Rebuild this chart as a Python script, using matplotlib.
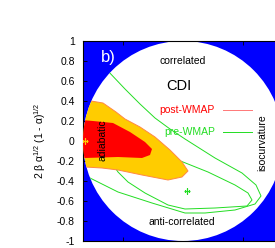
import matplotlib
matplotlib.use("Agg")
import matplotlib.pyplot as plt
from matplotlib.patches import Circle
import numpy as np

plt.rcParams['font.family'] = ['Liberation Sans', 'DejaVu Sans']
plt.rcParams['mathtext.fontset'] = 'custom'
plt.rcParams['mathtext.rm'] = 'Liberation Sans'
plt.rcParams['mathtext.it'] = 'Liberation Sans'

# y-axis ticks
y_ticks = [1, 0.8, 0.6, 0.4, 0.2, 0, -0.2, -0.4, -0.6, -0.8, -1]
y_tick_labels = ['1', '0.8', '0.6', '0.4', '0.2', '0', '-0.2', '-0.4', '-0.6', '-0.8', '-1']
x_ticks = [-0.6, 0.6]

# post-WMAP 2-sigma region (gold)
gold_x = [-1.13, -0.92, -0.80, -0.67, -0.58, -0.43, -0.28, -0.13, -0.01, 0.05,
          -0.01, -0.15, -0.41, -0.65, -0.81, -0.98, -1.13]
gold_y = [0.41, 0.40, 0.38, 0.29, 0.22, 0.14, 0.04, -0.09, -0.21, -0.30,
          -0.36, -0.39, -0.34, -0.29, -0.27, -0.26, -0.26]

# post-WMAP 1-sigma region (red)
red_x = [-1.13, -0.90, -0.70, -0.53, -0.38, -0.31, -0.33, -0.41, -0.65, -0.98, -1.13]
red_y = [0.22, 0.20, 0.18, 0.09, -0.01, -0.08, -0.14, -0.17, -0.16, -0.17, -0.17]

# pre-WMAP inner contour (green)
pre1_x = [-0.33, -0.05, 0.25, 0.52, 0.65, 0.69, 0.64, 0.32, 0.02, -0.15, -0.38, -0.55, -0.65, -0.73, -0.33]
pre1_y = [-0.09, -0.19, -0.31, -0.44, -0.52, -0.59, -0.65, -0.67, -0.68, -0.64, -0.52, -0.41, -0.31, -0.19, -0.09]

# pre-WMAP outer contour (green)
pre2_x = [-0.76, -0.58, -0.43, -0.28, -0.13, 0.02, 0.32, 0.59, 0.73, 0.78, 0.72, 0.52,
          0.22, 0.02, -0.31, -0.65, -0.93, -1.08]
pre2_y = [0.71, 0.52, 0.37, 0.23, 0.12, 0.02, -0.17, -0.32, -0.44, -0.55, -0.63, -0.69,
          -0.72, -0.72, -0.62, -0.51, -0.37, -0.30]

# best-fit points
post_best = (-0.98, 0.0)
pre_best = (0.04, -0.50)

W, H = 275, 248
fig = plt.figure(figsize=(W / 100, H / 100), dpi=100)
ax = fig.add_axes([83 / W, 7 / H, 200 / W, 200 / H])
ax.set_xlim(-1, 1)
ax.set_ylim(-1, 1)
ax.set_facecolor('#0000ff')

disk = Circle((0, 0), 1.0, facecolor='white', edgecolor='none', zorder=1)
ax.add_patch(disk)

green = '#22dd22'
l1, = ax.plot(pre1_x, pre1_y, color=green, lw=0.7, zorder=2)
l2, = ax.plot(pre2_x, pre2_y, color=green, lw=0.7, zorder=2)
g = ax.fill(gold_x, gold_y, facecolor='#ffcc00', edgecolor='#ff8844', lw=0.7, zorder=3)[0]
r = ax.fill(red_x, red_y, facecolor='#ff0000', edgecolor='none', zorder=4)[0]
m1, = ax.plot([pre_best[0]], [pre_best[1]], marker='+', color=green, ms=5, mew=0.9, zorder=5)
m2, = ax.plot([post_best[0]], [post_best[1]], marker='+', color='#ffcc00', ms=5, mew=0.9, zorder=5)
for art in (l1, l2, g, r, m1, m2):
    art.set_clip_path(disk)

ax.text(-0.75, 0.84, 'b)', color='white', fontsize=12, ha='center', va='center', zorder=6)
ax.text(0.0, 0.80, 'correlated', fontsize=7.5, ha='center', va='center', zorder=6)
ax.text(-0.04, 0.55, 'CDI', fontsize=10.5, ha='center', va='center', zorder=6)
ax.text(0.04, 0.31, 'post-WMAP', color='#ff0000', fontsize=7.5, ha='center', va='center', zorder=6)
ax.plot([0.40, 0.69], [0.31, 0.31], color='#ff7777', lw=0.7, zorder=6)
ax.text(0.07, 0.09, 'pre-WMAP', color=green, fontsize=7.5, ha='center', va='center', zorder=6)
ax.plot([0.40, 0.69], [0.09, 0.09], color=green, lw=0.7, zorder=6)
ax.text(0.79, -0.02, 'isocurvature', fontsize=7.5, rotation=90, ha='center', va='center', zorder=6)
ax.text(-0.80, 0.01, 'adiabatic', fontsize=7.5, rotation=90, ha='center', va='center', zorder=6)
ax.text(-0.01, -0.81, 'anti-correlated', fontsize=7.5, ha='center', va='center', zorder=6)

ax.set_yticks(y_ticks)
ax.set_yticklabels(y_tick_labels)
ax.set_xticks(x_ticks)
ax.set_xticklabels([])
ax.tick_params(direction='in', length=3, width=0.6, labelsize=7.5, top=True, bottom=True,
               left=True, right=True, pad=6)
for s in ax.spines.values():
    s.set_linewidth(0.8)

ax.set_ylabel('2 β α$^{1/2}$ (1 - α)$^{1/2}$', fontsize=7.5, labelpad=6)

fig.savefig('out.png', dpi=100)
